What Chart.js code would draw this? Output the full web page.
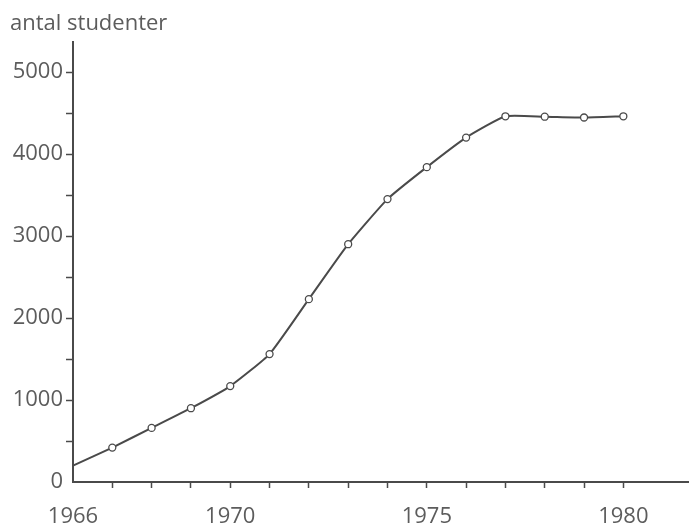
<!DOCTYPE html>
<html lang="da">
<head>
    <meta charset="UTF-8">
    <title>antal studenter</title>
    <script src="https://cdn.jsdelivr.net/npm/chart.js"></script>
    <style>
        body { margin: 0; background: #fff; overflow: hidden; }
        canvas { display: block; }
    </style>
</head>
<body>
    <canvas id="studentChart" width="689" height="526"></canvas>

    <script>
        const years = [1966, 1967, 1968, 1969, 1970, 1971, 1972, 1973, 1974, 1975, 1976, 1977, 1978, 1979, 1980];
        const students = [200, 420, 660, 900, 1170, 1560, 2230, 2900, 3450, 3840, 4200, 4460, 4455, 4445, 4460];
        const yearLabels = [1966, 1970, 1975, 1980];
        const yLabelStep = 1000;
        const yTickStep = 500;
        const yTitle = "antal studenter";

        const ink = "#4a4a4a";
        const textColor = "#5c5c5c";
        const font = "'Open Sans', 'Liberation Sans', sans-serif";

        const titlePlugin = {
            id: "yTitle",
            afterDraw(chart) {
                const ctx = chart.ctx;
                ctx.save();
                ctx.fillStyle = textColor;
                ctx.font = "22px " + font;
                ctx.textBaseline = "alphabetic";
                ctx.textAlign = "left";
                ctx.fillText(yTitle, 10, 30);
                ctx.restore();
            }
        };

        const ctx = document.getElementById("studentChart").getContext("2d");
        new Chart(ctx, {
            type: "line",
            data: {
                datasets: [{
                    data: years.map((y, i) => ({ x: y, y: students[i] })),
                    borderColor: ink,
                    borderWidth: 2,
                    tension: 0.15,
                    pointRadius: c => c.dataIndex === 0 ? 0 : 3.5,
                    pointBackgroundColor: "#fff",
                    pointBorderColor: ink,
                    pointBorderWidth: 1.3,
                    clip: false
                }]
            },
            options: {
                responsive: false,
                animation: false,
                layout: { autoPadding: false, padding: { top: 42, left: 0, right: 0, bottom: 0 } },
                plugins: {
                    legend: { display: false },
                    tooltip: { enabled: false }
                },
                scales: {
                    x: {
                        type: "linear",
                        min: 1966,
                        max: 1981.67,
                        afterFit: s => {
                            s.height = 44;
                            s.paddingLeft = 0;
                            s.paddingRight = 0;
                        },
                        afterBuildTicks: s => {
                            s.ticks = years.map(v => ({ value: v }));
                        },
                        border: { display: true, color: ink, width: 2 },
                        grid: {
                            drawOnChartArea: false,
                            drawTicks: true,
                            tickLength: 6,
                            tickWidth: 1.5,
                            tickColor: c => c.tick && c.tick.value === 1966 ? "rgba(0,0,0,0)" : ink
                        },
                        ticks: {
                            autoSkip: false,
                            maxRotation: 0,
                            padding: 16,
                            color: textColor,
                            font: { family: font, size: 22 },
                            callback: v => yearLabels.includes(v) ? String(v) : ""
                        }
                    },
                    y: {
                        min: 0,
                        max: 5366,
                        afterFit: s => { s.width = 73; },
                        afterBuildTicks: s => {
                            const t = [];
                            for (let v = 0; v <= 5000; v += yTickStep) t.push({ value: v });
                            s.ticks = t;
                        },
                        border: { display: true, color: ink, width: 2 },
                        grid: {
                            drawOnChartArea: false,
                            drawTicks: true,
                            tickLength: 7,
                            tickWidth: 1.5,
                            tickColor: c => c.tick && c.tick.value === 0 ? "rgba(0,0,0,0)" : ink
                        },
                        ticks: {
                            padding: 3,
                            color: textColor,
                            font: { family: font, size: 22 },
                            callback: v => v % yLabelStep === 0 ? String(v) : ""
                        }
                    }
                }
            },
            plugins: [titlePlugin]
        });
    </script>
</body>
</html>
